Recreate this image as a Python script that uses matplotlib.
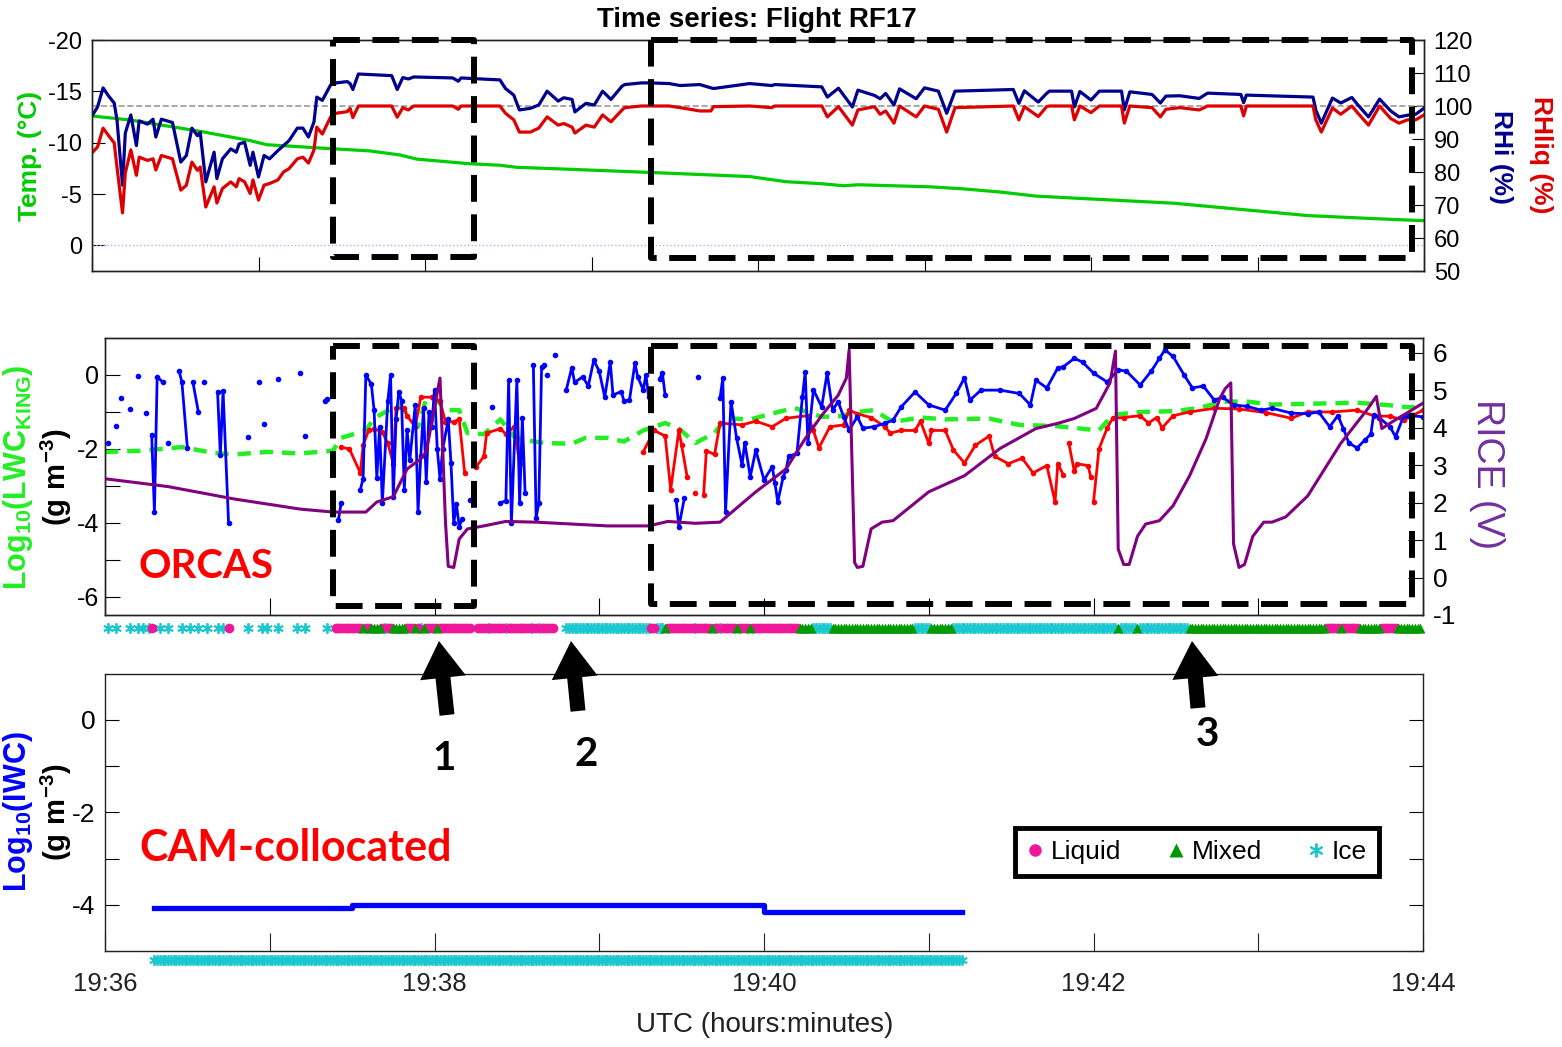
import numpy as np
import matplotlib
matplotlib.use('Agg')
import matplotlib.pyplot as plt
import matplotlib.patches as mpatches
import matplotlib.transforms as mtransforms
from matplotlib.lines import Line2D

nan = np.nan

# ---------------- data, time in seconds after 19:36:00 UTC ----------------
# top panel: temperature and relative humidity
temp_sec = [0, 14, 39, 57, 63, 75, 87, 100, 111, 117, 136, 147, 153, 173, 201, 237, 250, 263, 271, 276,
            302, 314, 327, 340, 354, 390, 414, 438, 462, 480]
temp_c = [-12.6, -12.2, -11.1, -10.2, -9.8, -9.6, -9.4, -9.2, -8.8, -8.4, -7.95, -7.8, -7.6, -7.4, -7.1, -6.7,
          -6.2, -6.0, -5.8, -5.9, -5.7, -5.5, -5.2, -4.8, -4.6, -4.1, -3.5, -2.9, -2.6, -2.4]

rh_sec = [0, 2, 4, 6, 8, 9, 11, 12, 14, 16,
          17, 20, 22, 23, 25, 29, 32, 34, 36, 38,
          39, 41, 44, 45, 47, 50, 52, 53, 55, 57,
          58, 60, 62, 64, 67, 69, 71, 74, 76, 78,
          80, 81, 83, 86, 88, 92, 93, 94, 96, 108,
          110, 112, 114, 116, 130, 132, 133, 147, 149, 152,
          154, 158, 161, 164, 168, 170, 173, 174, 178, 181,
          184, 187, 191, 192, 198, 201, 208, 212, 219, 223,
          224, 237, 245, 246, 263, 265, 269, 274, 276, 282,
          284, 286, 289, 291, 297, 300, 305, 308, 311, 332,
          334, 336, 341, 344, 345, 353, 354, 356, 360, 363,
          371, 372, 374, 382, 385, 387, 392, 399, 402, 414,
          415, 416, 440, 441, 443, 447, 450, 454, 456, 460,
          464, 468, 471, 474, 477, 480]
rhliq = [85.8, 87.6, 93.3, 91.0, 88.8, 81.5, 67.6, 79.7, 86.7, 79.0,
         84.5, 83.5, 84.0, 80.6, 85.0, 84.0, 74.5, 76.0, 83.0, 80.5,
         81.5, 69.4, 75.5, 70.6, 75.0, 77.0, 75.5, 78.0, 77.0, 73.5,
         77.6, 71.5, 76.0, 76.5, 77.6, 80.0, 81.0, 84.0, 84.5, 82.7,
         86.7, 93.6, 91.5, 96.7, 97.8, 98.3, 99.3, 96.5, 100.0, 100.0,
         96.6, 99.5, 98.8, 100.0, 100.0, 99.0, 100.0, 100.0, 97.8, 95.8,
         92.1, 92.1, 93.3, 96.7, 94.2, 94.7, 93.6, 91.8, 94.2, 93.6,
         97.3, 95.2, 98.8, 99.5, 100.0, 100.0, 100.0, 99.5, 98.5, 98.5,
         99.8, 100.0, 99.5, 100.0, 100.0, 96.7, 99.8, 94.2, 98.8, 99.8,
         97.5, 98.5, 94.8, 100.0, 96.7, 100.0, 99.0, 92.1, 99.5, 100.0,
         95.8, 99.8, 96.8, 99.8, 100.0, 100.0, 95.8, 100.0, 98.0, 100.0,
         100.0, 94.8, 100.0, 99.5, 96.7, 99.0, 99.5, 98.8, 100.0, 100.0,
         97.0, 100.0, 100.0, 95.8, 92.1, 99.4, 97.5, 100.0, 98.0, 94.2,
         100.0, 96.2, 94.8, 95.8, 95.8, 97.3]
rhi = [97.0, 99.7, 105.5, 103.0, 100.9, 95.8, 76.0, 91.8, 97.3, 88.0,
       95.5, 94.5, 96.0, 90.6, 96.0, 95.0, 83.0, 85.0, 93.3, 91.0,
       92.0, 77.0, 86.0, 78.0, 84.0, 87.0, 86.0, 88.5, 89.0, 82.0,
       86.0, 78.5, 85.0, 84.0, 86.5, 88.0, 89.5, 93.3, 93.3, 90.6,
       95.2, 102.7, 101.7, 106.4, 107.0, 107.4, 106.8, 105.0, 109.7, 109.2,
       105.0, 108.6, 108.2, 108.8, 108.5, 107.5, 108.5, 107.9, 105.3, 103.3,
       98.8, 99.3, 100.3, 104.5, 101.5, 102.5, 102.0, 98.2, 100.8, 100.3,
       104.5, 102.0, 106.0, 106.5, 107.0, 107.0, 106.8, 106.2, 106.5, 105.5,
       105.3, 106.8, 106.2, 106.5, 105.8, 102.7, 105.4, 99.7, 104.8, 103.2,
       102.2, 103.8, 100.3, 105.2, 102.2, 105.5, 104.5, 97.8, 104.5, 105.0,
       100.8, 104.6, 101.2, 103.8, 104.5, 104.5, 99.7, 104.4, 101.8, 104.5,
       104.5, 98.8, 104.3, 103.5, 100.9, 103.0, 103.1, 102.3, 103.9, 103.5,
       101.0, 103.3, 102.7, 98.8, 94.8, 102.4, 100.9, 102.6, 100.5, 96.7,
       102.1, 98.5, 96.7, 97.2, 97.5, 99.3]

# middle panel: King probe LWC (log10)
king_sec = [0, 13, 28, 39, 47, 59, 71, 83, 86, 95, 98, 107, 114, 117, 119, 125, 129, 132, 138, 144,
            149, 152, 160, 170, 175, 183, 189, 196, 204, 209, 215, 222, 226, 235, 241, 251, 261, 267, 274, 280,
            287, 297, 306, 322, 333, 346, 353, 362, 367, 377, 389, 398, 407, 416, 425, 438, 456, 468, 474, 480]
king_log = [-2.08, -2.05, -1.95, -2.1, -2.15, -2.08, -2.12, -2.05, -1.7, -1.5, -1.17, -0.8, -1.4, -0.63, -0.6,
            -0.95, -0.95, -1.57, -1.6, -1.2, -1.67, -1.75, -1.84, -1.86, -1.7, -1.7, -1.8, -1.5, -1.3, -1.45,
            -1.84, -1.57, -1.17, -1.2, -1.08, -0.89, -1.13, -1.12, -1.0, -0.95, -1.27, -1.15, -1.2, -1.18, -1.35,
            -1.38, -1.43, -1.5, -1.08, -1.0, -0.98, -0.9, -0.72, -0.72, -0.8, -0.78, -0.75, -0.82, -0.87, -0.87]

# middle panel: droplet probe LWC (log10), gaps as nan
cdp_sec = [86, 89, 93, 94, 96, 98, 101, 103, 105, 106, 109, 110, 113, 115, 119, 122, 124, 127, 129, 131, nan,
           135, 138, 139, 144, 146, 149, 151, nan,
           196, 200, 204, 206, 209, 210, 212, nan, 215, nan,
           218, 219, 222, 224, 232, 237, 243, 248, 256, 258, 260, 264, 269, 271, 274, 279, 284, 286, 290, 295,
           297, 300, 301, 306, 309, 313, 317, 322, 324, 329, 334, 338, 343, 346, 347, 349, nan,
           351, 353, 354, 358, 359, nan,
           360, 362, 365, 367, 371, 377, 380, 383, 385, 389, 395, 404, 413, 423, 432, 438, 447, 456, 462, 468,
           473, 480]
cdp_log = [-1.95, -2.0, -2.65, -1.9, -1.5, -1.45, -1.55, -1.85, -2.4, -0.9, -0.9, -1.1, -1.4, -0.6, -0.6, -0.7,
           -1.27, -1.27, -1.2, -2.65, nan,
           -2.5, -2.2, -1.57, -1.45, -1.6, -1.4, -2.4, nan,
           -2.08, -1.5, -1.65, -3.1, -1.5, -1.9, -2.75, nan, -3.2, nan,
           -3.25, -2.05, -2.15, -1.3, -1.35, -1.25, -1.4, -1.17, -1.1, -1.5, -1.97, -1.4, -1.35, -0.95, -1.05,
           -1.15, -1.4, -1.57, -1.5, -1.5, -1.25, -1.85, -1.5, -1.5, -2.03, -2.38, -1.9, -1.65, -2.2, -2.4,
           -2.25, -2.65, -2.45, -3.43, -2.4, -2.7, nan,
           -1.84, -2.6, -2.4, -2.45, -2.75, nan,
           -3.43, -2.0, -1.43, -1.17, -1.15, -1.1, -1.3, -1.15, -1.43, -1.1, -1.0, -0.9, -0.92, -1.02, -1.17,
           -1.0, -1.0, -0.95, -1.1, -1.12, -1.22, -0.95]

# middle panel: ice water content (log10), gaps as nan
ice_sec = [1, nan, 4, nan, 6, nan, 9, nan, 12, nan, 15, nan,
           17, 18, 19, 21, nan, 23, nan, 27, 28, 30, nan, 32, 34, nan, 36, nan,
           41, 42, 43, 45, nan, 52, nan, 56, nan, 58, nan, 63, nan, 71, nan, 73, nan,
           80, 81, nan, 85, 86, nan,
           93, 94, 95, 97, 98, 99, 100, 101, 103, 104, 105, 106, 107, 108, 109, 110, 111, 113, 114, 115,
           116, 117, 118, 119, 120, 121, 122, 123, 125, 126, 127, 128, 129, 130, nan,
           133, nan, 141, nan,
           144, 146, 147, 148, 150, 151, 152, 153, nan,
           156, 157, 158, 159, 160, nan, 161, nan, 164, nan,
           168, 170, 171, 174, 176, 178, 180, 182, 184, 185, 188, 189, 191, 193, 194, 196, 197, 198, nan,
           202, 203, 204, nan, 208, 209, 211, nan, 216, nan,
           224, 225, 226, 228, 230, 232, 233, 235, 237, 240, 243, 244, 245, 247, 248, 249, 252, 254, 255, 256,
           258, 261, 263, 265, 267, 269, 271, 274, 276, 280, 284, 287, 290, 295, 300, 306, 310, 313, 315, 319,
           326, 333, 337, 339, 343, 347, 349, 353, 356, 360, 365, 369, 372, 377, 381, 384, 386, 389, 393, 396,
           400, 404, 407, 411, 416, 421, 425, 432, 438, 442, 446, 449, 451, 453, 456, 459, 461, 462, 464, 468,
           470, 473, 475, 480]
ice_log = [-1.84, nan, -1.38, nan, -0.62, nan, -0.92, nan, -0.03, nan, -1.02, nan,
           -1.62, -3.7, -0.05, -0.19, nan, -1.84, nan, 0.1, -0.19, -1.97, nan, -0.19, -1.0, nan, -0.19, nan,
           -0.46, -2.16, -0.43, -4.0, nan, -1.67, nan, -0.19, nan, -1.32, nan, -0.11, nan, 0.05, nan, -1.65, nan,
           -0.7, -0.65, nan, -3.92, -3.46, nan,
           -3.1, -2.8, 0.0, -0.25, -0.95, -2.78, -1.4, -3.46, -0.7, 0.0, -3.3, -1.2, -0.45, -0.7, -3.1, -1.5,
           -2.3, -0.8, -3.7, -2.2, -0.9, -2.9, -1.0, -1.4, -0.4, -2.0, -2.8, -2.0, -1.2, -2.38, -4.0, -3.5,
           -4.1, -3.9, nan,
           -3.38, nan, -0.86, nan,
           -3.46, -3.4, -0.14, -4.0, -0.14, -3.46, -1.17, -3.2, nan,
           0.27, -3.86, -3.46, 0.22, 0.27, nan, 0.0, nan, 0.54, nan,
           -0.4, 0.2, -0.2, -0.05, -0.3, 0.4, 0.1, -0.6, 0.35, -0.54, -0.45, -0.7, -0.68, 0.32, -0.05, -0.4,
           0.0, -0.6, nan,
           -0.1, 0.05, -0.55, nan, -3.38, -4.1, -3.33, nan, -0.05, nan,
           -0.62, -0.08, -3.7, -0.72, -1.7, -2.43, -1.84, -2.75, -2.03, -2.84, -2.48, -2.93, -3.43, -2.75, -2.57,
           -2.2, -2.12, -0.59, 0.08, -1.84,
           -0.4, -0.86, 0.05, -0.95, -0.72, -1.13, -1.49, -1.13, -1.44, -1.4, -1.31, -1.22, -0.86, -0.46, -0.81,
           -0.95, -0.5, -0.08, -0.68, -0.41,
           -0.41, -0.5, -0.81, -0.14, -0.35, 0.19, 0.22, 0.45, 0.35, 0.05, -0.19, 0.14, 0.1, -0.27, 0.1, 0.45,
           0.68, 0.5, 0.0, -0.35,
           -0.3, -0.68, -0.6, -0.81, -0.85, -0.95, -0.9, -1.03, -1.05, -1.0, -1.4, -1.1, -1.45, -1.84, -1.97,
           -1.75, -1.6, -1.08, -1.15, -1.4,
           -1.67, -1.1, -1.1, -1.13]

# middle panel: RICE icing detector voltage
rice_sec = [0, 23, 47, 71, 83, 95, 99, 105, 110, 115, 117, 122, 124, 125, 127, 129, 132, 138, 146, 157,
            170, 183, 198, 205, 215, 224, 237, 248, 255, 261, 267, 270, 271, 273, 274, 276, 279, 283, 287, 300,
            313, 326, 339, 347, 353, 361, 366, 368, 369, 371, 373, 376, 379, 384, 389, 395, 401, 406, 408, 410,
            411, 413, 415, 418, 422, 425, 430, 438, 450, 460, 463, 465, 469, 474, 480]
rice_v = [2.64, 2.43, 2.1, 1.83, 1.75, 1.75, 2.02, 2.16, 2.9, 3.17, 3.36, 5.33, 1.48, 0.3, 0.27, 1.03, 1.3,
          1.38, 1.5, 1.48, 1.43, 1.38, 1.38, 1.5, 1.45, 1.48, 2.29, 2.9, 3.71, 4.33, 4.87, 5.33, 6.08, 0.4,
          0.27, 0.3, 1.3, 1.48, 1.52, 2.29, 2.72, 3.45, 3.98, 4.12, 4.25, 4.52, 5.2, 6.05, 0.76, 0.35, 0.35,
          1.1, 1.43, 1.52, 1.92, 2.72, 3.71, 4.79, 5.05, 5.2, 0.9, 0.27, 0.35, 1.1, 1.48, 1.48, 1.62, 2.18,
          3.58, 4.52, 4.84, 3.98, 4.17, 4.39, 4.66]

# cloud phase, run-length coded: first second, last second, phase (L liquid, M mixed, I ice)
phase_t0 = [1, 4, 9, 12, 14, 16, 17, 20, 23, 28, 31, 34, 37, 41, 43, 45, 52, 57, 59, 63, 70, 73, 81,
            84, 94, 95, 97, 101, 102, 103, 105, 110, 113, 114, 115, 116, 117, 121, 122,
            136, 140, 141, 146, 147, 155, 156, 158, 159,
            168,
            199, 201, 204, 205, 215, 216, 221, 222, 224, 225, 230, 231, 235, 236,
            253, 258, 265, 295, 301,
            309, 369, 370, 376, 377,
            395, 445, 450, 451, 457, 465, 471]
phase_t1 = [1, 4, 9, 12, 14, 16, 17, 20, 23, 28, 31, 34, 37, 41, 43, 45, 52, 57, 59, 63, 70, 73, 81,
            93, 94, 96, 100, 101, 102, 104, 109, 112, 113, 114, 115, 116, 120, 121, 133,
            139, 140, 145, 146, 154, 155, 157, 158, 163,
            198,
            200, 203, 204, 214, 215, 220, 221, 223, 224, 229, 230, 234, 235, 252,
            257, 264, 294, 300, 308,
            368, 369, 375, 376, 394,
            444, 449, 450, 456, 464, 470, 479]
phase_kind = ['I', 'I', 'I', 'I', 'I', 'I', 'L', 'I', 'I', 'I', 'I', 'I', 'I', 'I', 'I', 'L', 'I', 'I', 'I',
              'I', 'I', 'I', 'I',
              'L', 'M', 'L', 'M', 'L', 'I', 'L', 'M', 'L', 'M', 'L', 'I', 'M', 'L', 'M', 'L',
              'L', 'I', 'L', 'I', 'L', 'I', 'L', 'I', 'L',
              'I',
              'L', 'I', 'M', 'L', 'I', 'L', 'M', 'L', 'I', 'L', 'M', 'L', 'M', 'L',
              'M', 'I', 'M', 'I', 'M',
              'I', 'M', 'I', 'M', 'I',
              'M', 'L', 'M', 'L', 'M', 'L', 'M']

# bottom panel: model IWC collocated with the flight track
cam_sec = [18, 90, 90, 240, 240, 312]
cam_iwc = [-4.07, -4.07, -4.0, -4.0, -4.16, -4.16]
cam_ice_first, cam_ice_last = 18, 312

time_labels = ['19:36', '', '19:38', '', '19:40', '', '19:42', '', '19:44']

# ---------------- style ----------------
plt.rcParams['font.family'] = ['Liberation Sans', 'DejaVu Sans']
plt.rcParams['axes.unicode_minus'] = False
plt.rcParams['mathtext.fontset'] = 'custom'
plt.rcParams['mathtext.rm'] = 'Liberation Sans'
plt.rcParams['mathtext.bf'] = 'Liberation Sans:bold'
HEAVY = ['Lato', 'Liberation Sans']

LIQ_C, MIX_C, ICE_C = '#F0169A', '#009A00', '#1BC8CF'
ASTERISK = (6, 2, 0)

W, H = 1562, 1047
fig = plt.figure(figsize=(W / 100, H / 100), dpi=100)
# pixel coordinates counted from the top-left corner of the figure
pix = mtransforms.Affine2D().scale(1 / W, -1 / H).translate(0, 1) + fig.transFigure


def frame(x0, y0, x1, y1):
    return [x0 / W, 1 - y1 / H, (x1 - x0) / W, (y1 - y0) / H]


def style_spines(ax):
    for s in ax.spines.values():
        s.set_color('#222222')
        s.set_linewidth(1.0)


minute_ticks = np.arange(0, 481, 60)

# ---------------- top panel ----------------
ax1 = fig.add_axes(frame(92, 40, 1424, 271))
ax1.axhline(0, color='#a8b0ff', ls=':', lw=1)
ax1.plot(temp_sec, temp_c, color='#00CC00', lw=2.3)
ax1.set_xlim(0, 480)
ax1.set_ylim(2.5, -20)
ax1.set_yticks([-20, -15, -10, -5, 0])
ax1.set_xticks(minute_ticks)
ax1.tick_params(axis='x', direction='in', length=10, labelbottom=False)
ax1.tick_params(axis='y', direction='in', length=9, labelsize=17, pad=7)
style_spines(ax1)

ax1r = ax1.twinx()
ax1r.axhline(100, color='#999999', ls='--', lw=1.2)
ax1r.plot(rh_sec, rhi, color='#00008F', lw=2.3)
ax1r.plot(rh_sec, rhliq, color='#DD0000', lw=2.3)
ax1r.set_ylim(50, 120)
ax1r.set_yticks(range(50, 121, 10))
ax1r.tick_params(direction='in', length=9, labelsize=17, pad=7)
style_spines(ax1r)

# ---------------- middle panel ----------------
ax2 = fig.add_axes(frame(105, 338, 1423, 615))
ax2.plot(king_sec, king_log, color='#22EE22', lw=3.2, ls=(0, (3, 2)))
ax2.plot(cdp_sec, cdp_log, color='#FF0000', lw=2.0, marker='.', ms=6)
ax2.plot(ice_sec, ice_log, color='#0000FF', lw=2.0, marker='.', ms=6)
ax2.set_xlim(0, 480)
ax2.set_ylim(-6.49, 1.0)
ax2.set_xticks(minute_ticks)
ax2.set_yticks(range(-6, 1), ['-6', '', '-4', '', '-2', '', '0'])
ax2.tick_params(axis='x', direction='in', length=12, labelbottom=False)
ax2.tick_params(axis='y', direction='in', length=11, labelsize=18, pad=4)
style_spines(ax2)

# phase markers just below the panel
liq_t, mix_t, ice_t = [], [], []
for t0, t1, kind in zip(phase_t0, phase_t1, phase_kind):
    secs = list(range(t0, t1 + 1))
    {'L': liq_t, 'M': mix_t, 'I': ice_t}[kind].extend(secs)
row = -6.84
ax2.plot(ice_t, [row] * len(ice_t), ls='none', marker=ASTERISK, ms=7.5, mew=1.3, color=ICE_C, clip_on=False)
ax2.plot(liq_t, [row] * len(liq_t), ls='none', marker='o', ms=7, mec='none', color=LIQ_C, clip_on=False)
ax2.plot(mix_t, [row] * len(mix_t), ls='none', marker='^', ms=7.5, mec='none', color=MIX_C, clip_on=False)

ax2r = ax2.twinx()
ax2r.plot(rice_sec, rice_v, color='#800080', lw=2.2)
ax2r.set_ylim(-1.0, 6.4)
ax2r.set_yticks(range(-1, 7))
ax2r.tick_params(direction='in', length=11, pad=7, labelsize=19)
style_spines(ax2r)

# ---------------- bottom panel ----------------
ax3 = fig.add_axes(frame(105, 674, 1423, 951))
ax3.plot(cam_sec, cam_iwc, color='#0000FF', lw=3.8)
cam_ice_t = np.arange(cam_ice_first, cam_ice_last + 1)
ax3.plot(cam_ice_t, np.full(len(cam_ice_t), -5.19), ls='none', marker=ASTERISK, ms=7.5, mew=1.3,
         color=ICE_C, clip_on=False)
ax3.set_xlim(0, 480)
ax3.set_ylim(-4.98, 0.99)
ax3.set_xticks(minute_ticks, time_labels, fontsize=18.5)
ax3.set_yticks(range(-5, 1), ['', '-4', '', '-2', '', '0'], fontsize=19)
ax3.tick_params(axis='x', direction='in', length=13, pad=15, colors='#222222')
ax3.tick_params(axis='y', direction='in', length=10, pad=7, right=True)
style_spines(ax3)

handles = [Line2D([], [], ls='none', marker='o', ms=9, mec='none', color=LIQ_C, label='Liquid'),
           Line2D([], [], ls='none', marker='^', ms=10, mec='none', color=MIX_C, label='Mixed'),
           Line2D([], [], ls='none', marker=ASTERISK, ms=10, mew=1.4, color=ICE_C, label='Ice')]
leg = ax3.legend(handles=handles, ncol=3, loc='center', bbox_to_anchor=(1197 / W, 1 - 852 / H),
                 bbox_transform=fig.transFigure, fontsize=19, frameon=True, fancybox=False,
                 framealpha=1, edgecolor='black', handlelength=0.6, handletextpad=0.3,
                 columnspacing=1.75, borderpad=0.45, borderaxespad=0)
leg.get_frame().set_linewidth(3.5)

# ---------------- labels ----------------
fig.text(757, 20, 'Time series: Flight RF17', transform=pix, ha='center', va='center',
         fontsize=20, fontweight='bold')
fig.text(30, 156, 'Temp. (°C)', transform=pix, ha='center', va='center', rotation=90,
         fontsize=19, fontweight='bold', color='#00CC00')
fig.text(1501, 157, 'RHi (%)', transform=pix, ha='center', va='center', rotation=-90,
         fontsize=19, fontweight='bold', color='#00008F')
fig.text(1541, 155, 'RHliq (%)', transform=pix, ha='center', va='center', rotation=-90,
         fontsize=19, fontweight='bold', color='#DD0000')

fig.text(18, 477, r'$\mathbf{Log_{10}(LWC_{KING})}$', transform=pix, ha='center', va='center',
         rotation=90, fontsize=22, color='#22EE22')
fig.text(56, 477, r'$\mathbf{(g\ m^{-3})}$', transform=pix, ha='center', va='center',
         rotation=90, fontsize=21, color='black')
fig.text(1487, 474, 'RICE (V)', transform=pix, ha='center', va='center', rotation=-90,
         fontsize=27, color='#7030A0')

fig.text(18, 812, r'$\mathbf{Log_{10}(IWC)}$', transform=pix, ha='center', va='center',
         rotation=90, fontsize=22, color='#0000FF')
fig.text(56, 812, r'$\mathbf{(g\ m^{-3})}$', transform=pix, ha='center', va='center',
         rotation=90, fontsize=21, color='black')
fig.text(765, 1025, 'UTC (hours:minutes)', transform=pix, ha='center', va='center',
         fontsize=20, color='#222222')

fig.text(206, 566, 'ORCAS', transform=pix, ha='center', va='center', fontsize=29,
         fontweight='bold', color='#FF0000', family=HEAVY)
fig.text(296, 848, 'CAM-collocated', transform=pix, ha='center', va='center', fontsize=31,
         fontweight='bold', color='#FF0000', family=HEAVY)

for x, y, s in [(444, 758, '1'), (586, 755, '2'), (1207, 735, '3')]:
    fig.text(x, y, s, transform=pix, ha='center', va='center', fontsize=29,
             fontweight='bold', family=HEAVY)

# arrows pointing at the phase row
for (x0, y0), (x1, y1) in [((447, 715), (439, 641)), ((578, 711), (571, 641)), ((1198, 708), (1192, 641))]:
    fig.patches.append(mpatches.FancyArrow(x0, y0, x1 - x0, y1 - y0, width=15, head_width=46,
                                           head_length=37, length_includes_head=True,
                                           transform=pix, color='black', lw=0))

# dashed boxes marking the cloud segments
for x0, y0, x1, y1 in [(333, 40, 474, 257), (651, 40, 1412, 258),
                       (333, 346, 474, 606), (651, 346, 1412, 604)]:
    fig.patches.append(mpatches.Rectangle((x0, y0), x1 - x0, y1 - y0, transform=pix, fill=False,
                                          ec='black', lw=4.3, ls=(0, (4.5, 2.1)), joinstyle='round'))

fig.savefig('out.png', dpi=100)
